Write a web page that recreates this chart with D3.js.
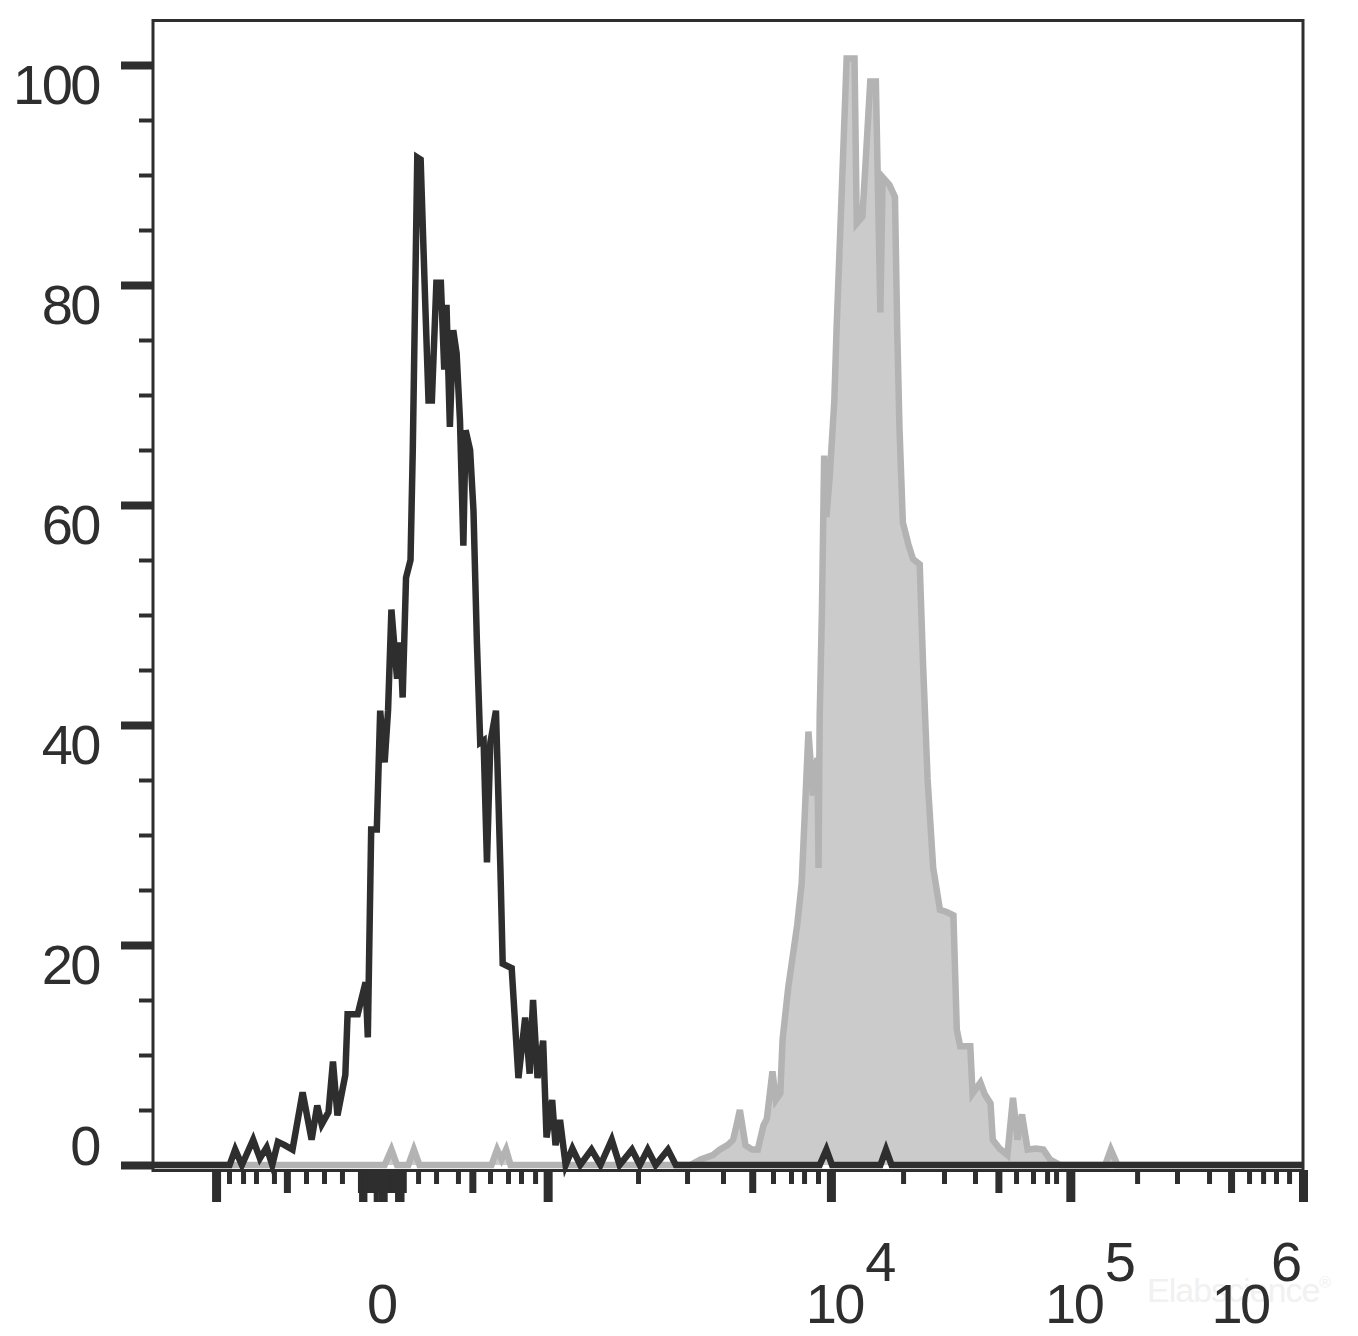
<!DOCTYPE html>
<html>
<head>
<meta charset="utf-8">
<script src="https://cdn.jsdelivr.net/npm/d3@7"></script>
<style>
  body { margin: 0; background: #fff; }
  svg { display: block; }
</style>
</head>
<body>
<svg id="chart" width="1358" height="1336"></svg>
<script>
// ---- Data (x in display channels 0..1024, y in % of max count) ----
const isotypeChannels = [0,69,74,80,90,96,102,107,112,118,125,134,142,147,151,157,161,165,172,174,183,190,192,195,200,203,207,210,213,218,221,223,226,230,232,236,239,243,246,249,253,257,260,262,265,268,271,274,277,279,283,286,289,292,295,298,301,306,310,312,320,326,332,336,339,343,348,351,356,359,363,368,374,381,391,399,409,416,427,434,441,448,459,466,594,600,605,648,653,658,1024];
const isotypeCounts = [0,0,1.4,0,2.3,0.6,1.6,0,2.1,1.8,1.4,6.6,2.3,5.4,3.7,4.8,9.4,4.5,8.2,13.7,13.7,16.6,11.6,30.5,30.5,41.3,36.6,41.3,50.5,44.2,47.5,42.5,53.4,55.0,65.0,91.6,91.4,78.6,69.5,69.5,80.2,80.2,72.3,78.2,67.1,75.9,73.8,67.7,56.3,66.8,65.0,59.5,47.7,38.4,38.6,27.5,38.4,41.3,26.8,18.3,17.9,7.9,13.4,8.3,15.0,7.9,11.3,2.5,5.9,1.8,4.1,0,1.5,0,1.4,0,2.3,0,1.4,0,1.4,0,1.4,0,0,1.4,0,0,1.4,0,0];

const stainedChannels = [0,207,213,218,228,233,238,302,307,311,315,319,479,488,499,505,512,517,520,523,528,534,539,544,547,552,555,559,561,566,574,578,584,588,592,593,594,596,598,600,603,607,609,614,618,625,627,632,635,639,644,648,650,656,661,663,665,668,673,677,683,686,690,695,701,707,713,716,719,728,730,737,741,746,748,754,761,766,770,774,779,786,793,799,808,848,853,859,1024];
const stainedCounts = [0,0,1.4,0,0,1.4,0,0,1.4,0.5,1.4,0,0,0.5,0.9,1.4,1.8,2.3,3.6,5.0,1.8,1.4,1.4,3.6,4.2,8.5,5.9,6.5,11.4,16.1,21.8,25.6,39.4,33.6,37.0,27.0,40.8,50.4,64.5,58.9,62.7,69.4,75.9,89.5,100.6,100.6,85.6,86.2,91.4,98.5,98.5,77.5,89.8,89.1,88.0,75.9,67.0,58.4,56.4,55.1,54.6,45.5,35.1,27.0,23.2,23.0,22.7,12.3,10.8,10.8,6.5,7.5,6.4,5.6,2.3,1.5,0.9,6.1,2.3,4.6,1.4,1.5,1.4,0.5,0,0,1.4,0,0];

const yTickValues = [0, 20, 40, 60, 80, 100];
const yMinorTickValues = [5,10,15,25,30,35,45,50,55,65,70,75,85,90,95];

const xMajorTicks = [57, 352, 604, 817, 1024];
const xMediumTicks = [120, 285, 534, 753, 960];
const xMinorTicks = [68.5,81,92.5,108.5,137,153,169,236.7,252.7,272.2,300.7,316.7,328.3,340.8,432.4,476,508,552.5,568.5,580.1,592.5,668.2,704.6,732.2,768.7,783.8,796.3,804.3,876.4,911.9,940.4,976,988.5,1000,1011.6];
const xZeroClusterTicks = [185,188,191,194,197,200,203,206,209,212,215,218,221,224];
const xZeroClusterLong = [186,189,199,203,207,218,222];

const xLabelBases = ["0", "10", "10", "10"];
const xLabelExponents = ["", "4", "5", "6"];
const xLabelChannels = [204, 607, 820, 968];

// ---- Drawing ----
const svg = d3.select("#chart");
const ink = "#2e2e2e";
const font = "'Liberation Sans', Arial, Helvetica, sans-serif";

svg.append("rect").attr("width", 1358).attr("height", 1336).attr("fill", "#fff");

// faint watermark (behind everything)
const wm = svg.append("text")
  .attr("x", 1147).attr("y", 1302)
  .attr("font-family", font).attr("font-size", 34)
  .attr("letter-spacing", "-1px")
  .attr("fill", "#f1f1f1");
wm.append("tspan").text("Elabscience");
wm.append("tspan").attr("font-size", 16).attr("dy", -14).text("®");

const x = d3.scaleLinear().domain([0, 1024]).range([152, 1303]);
const y = d3.scaleLinear().domain([0, 100]).range([1165, 65]);

const stained = d3.zip(stainedChannels, stainedCounts);
const isotype = d3.zip(isotypeChannels, isotypeCounts);

svg.append("path").datum(stained)
  .attr("d", d3.area().x(d => x(d[0])).y0(y(0)).y1(d => y(d[1])))
  .attr("fill", "#cbcbcb");
svg.append("path").datum(stained)
  .attr("d", d3.line().x(d => x(d[0])).y(d => y(d[1])))
  .attr("fill", "none").attr("stroke", "#b3b3b3")
  .attr("stroke-width", 6.5).attr("stroke-linejoin", "miter");

svg.append("path").datum(isotype)
  .attr("d", d3.line().x(d => x(d[0])).y(d => y(d[1])))
  .attr("fill", "none").attr("stroke", ink)
  .attr("stroke-width", 6.5).attr("stroke-linejoin", "miter");

// frame
svg.append("rect").attr("x", 153).attr("y", 20.5)
  .attr("width", 1150).attr("height", 1150)
  .attr("fill", "none").attr("stroke", ink).attr("stroke-width", 3);

// y axis ticks
function yTicks(values, size, width) {
  const g = svg.append("g").attr("transform", "translate(152,0)")
    .call(d3.axisLeft(y).tickValues(values).tickSize(size).tickFormat(""));
  g.select(".domain").remove();
  g.selectAll("line").attr("stroke", ink).attr("stroke-width", width);
}
yTicks(yTickValues, 31, 8);
yTicks(yMinorTickValues, 13, 4);

svg.append("g").selectAll("text").data(yTickValues).join("text")
  .attr("x", 99)
  .attr("y", d => d === 0 ? y(d) : y(d) + 39)
  .attr("text-anchor", "end")
  .attr("font-family", font).attr("font-size", 56)
  .attr("letter-spacing", "-2.5px")
  .attr("fill", ink)
  .text(d => d);

// x axis ticks
function xTicks(values, size, width) {
  const g = svg.append("g").attr("transform", "translate(0,1170)")
    .call(d3.axisBottom(x).tickValues(values).tickSize(size).tickFormat(""));
  g.select(".domain").remove();
  g.selectAll("line").attr("stroke", ink).attr("stroke-width", width);
}
xTicks(xMinorTicks, 14, 5);
xTicks(xMediumTicks, 23, 7);
xTicks(xZeroClusterTicks, 23, 5);
xTicks(xZeroClusterLong, 32, 5);
xTicks(xMajorTicks, 32, 9);

// x labels
const xl = svg.append("g");
xLabelBases.forEach((b, i) => {
  const cx = x(xLabelChannels[i]);
  xl.append("text")
    .attr("x", cx).attr("y", 1323)
    .attr("text-anchor", "middle")
    .attr("font-family", font).attr("font-size", 56)
    .attr("letter-spacing", "-2.5px")
    .attr("fill", ink).text(b);
  if (xLabelExponents[i]) {
    xl.append("text")
      .attr("x", cx + 31).attr("y", 1281)
      .attr("text-anchor", "start")
      .attr("font-family", font).attr("font-size", 56)
      .attr("fill", ink).text(xLabelExponents[i]);
  }
});
</script>
</body>
</html>
